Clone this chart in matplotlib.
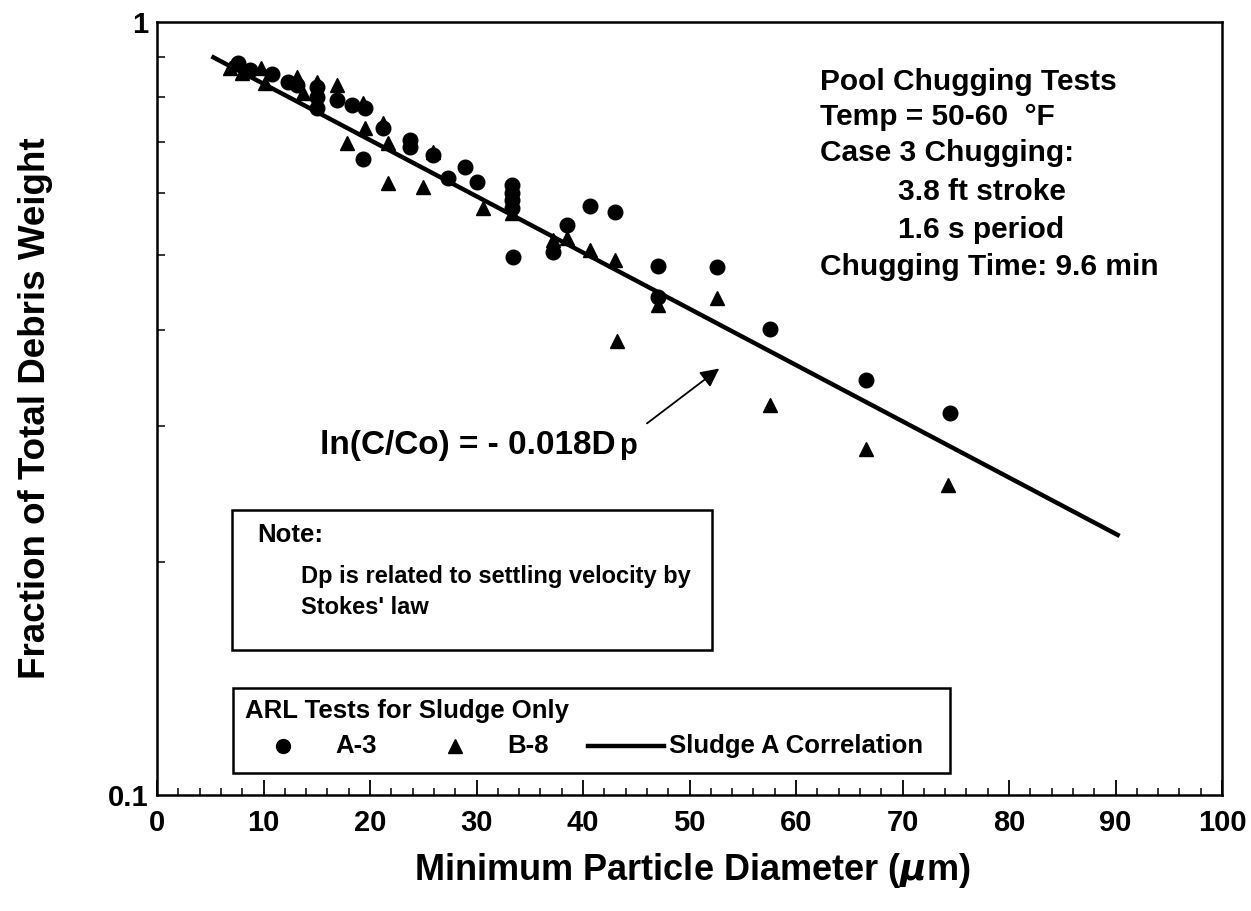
import numpy as np
from matplotlib import pyplot as plt
from matplotlib.lines import Line2D
from matplotlib.patches import Rectangle
from matplotlib.ticker import FixedLocator, FixedFormatter, NullFormatter

plt.rcParams['font.family'] = ['Liberation Sans', 'DejaVu Sans']
plt.rcParams['font.weight'] = 'bold'

# ARL test A-3 (circles)
a3_x = [7.6, 8.7, 10.8, 12.3, 13.1, 15.0, 15.0, 15.0, 16.9, 18.3, 19.5, 19.3, 21.2,
        23.8, 23.8, 25.9, 27.3, 28.9, 30.0, 33.3, 33.3, 33.3, 33.3, 33.4, 37.2,
        38.5, 40.7, 43.0, 47.0, 47.0, 52.6, 57.6, 66.6, 74.5]
a3_y = [0.886, 0.867, 0.856, 0.837, 0.829, 0.824, 0.800, 0.774, 0.793, 0.781, 0.774,
        0.665, 0.729, 0.704, 0.689, 0.673, 0.628, 0.649, 0.621, 0.615, 0.601, 0.589,
        0.574, 0.497, 0.504, 0.546, 0.578, 0.568, 0.483, 0.441, 0.482, 0.401, 0.344,
        0.312]

# ARL test B-8 (triangles)
b8_x = [6.9, 8.0, 9.8, 10.1, 13.1, 13.7, 15.0, 16.9, 17.8, 19.5, 19.3, 21.2, 21.7,
        21.7, 25.0, 25.9, 30.6, 33.3, 37.2, 38.5, 40.7, 43.0, 47.0, 52.6, 43.2,
        57.6, 66.6, 74.3]
b8_y = [0.872, 0.859, 0.872, 0.834, 0.849, 0.809, 0.836, 0.829, 0.697, 0.729, 0.786,
        0.740, 0.697, 0.619, 0.612, 0.679, 0.574, 0.566, 0.522, 0.526, 0.507, 0.492,
        0.430, 0.440, 0.387, 0.320, 0.280, 0.252]

# Sludge A correlation, ln(C/Co) = -0.018 Dp
corr_x = [5.3, 90.2]
corr_y = [0.900, 0.217]

x_ticks = [0, 10, 20, 30, 40, 50, 60, 70, 80, 90, 100]
y_ticks = [0.1, 1]
y_tick_labels = ['0.1', '1']
y_minor = [0.2, 0.3, 0.4, 0.5, 0.6, 0.7, 0.8, 0.9]

W, H = 1251, 911
fig = plt.figure(figsize=(W / 100, H / 100), dpi=100)
ax = fig.add_axes([157 / W, 1 - 795 / H, (1222 - 157) / W, (795 - 22) / H])

ax.plot(a3_x, a3_y, 'o', color='black', ms=10.5, zorder=3)
ax.plot(b8_x, b8_y, '^', color='black', ms=10.5, zorder=3)
ax.plot(corr_x, corr_y, '-', color='black', lw=3.2, zorder=2)

ax.set_yscale('log')
ax.set_xlim(0, 100)
ax.set_ylim(0.1, 1)
ax.set_xticks(x_ticks)
ax.set_xticks(np.arange(0, 101, 2), minor=True)
ax.yaxis.set_major_locator(FixedLocator(y_ticks))
ax.yaxis.set_major_formatter(FixedFormatter(y_tick_labels))
ax.yaxis.set_minor_locator(FixedLocator(y_minor))
ax.yaxis.set_minor_formatter(NullFormatter())
ax.tick_params(axis='both', which='both', direction='in', top=False, right=False)
ax.tick_params(axis='x', which='major', length=11, width=1.3, labelsize=21, pad=10)
ax.tick_params(axis='x', which='minor', length=5, width=1.1)
ax.tick_params(axis='y', which='major', length=0, labelsize=21, pad=6)
ax.tick_params(axis='y', which='minor', length=6, width=1.1)
for s in ax.spines.values():
    s.set_linewidth(1.8)

fig.text(692 / W, 1 - 870 / H, 'Minimum Particle Diameter ($\\mu$m)', fontsize=26,
         ha='center', va='center')
fig.text(36 / W, 1 - 408 / H, 'Fraction of Total Debris Weight', fontsize=26.5,
         ha='center', va='center', rotation=90)

# test conditions
info = [('Pool Chugging Tests', 820, 82), ('Temp = 50-60  \u00b0F', 820, 117),
        ('Case 3 Chugging:', 820, 153), ('3.8 ft stroke', 898, 192),
        ('1.6 s period', 898, 230), ('Chugging Time: 9.6 min', 820, 267)]
for txt, px, py in info:
    fig.text(px / W, 1 - py / H, txt, fontsize=21.5, ha='left', va='center')

# correlation label and arrow
ax.annotate('', xy=(53.0, 0.358), xytext=(45.8, 0.301),
            arrowprops=dict(arrowstyle='-|>', lw=1.3, color='black', mutation_scale=28))
eq = ax.text(15.3, 0.283, 'ln(C/Co) = - 0.018D', fontsize=24, ha='left', va='center')
fig.canvas.draw()
bb = eq.get_window_extent()
fig.text((bb.x1 + 4) / W, (bb.y0 + bb.y1) / 2 / H, 'p', fontsize=21,
         ha='left', va='center')

# note box
fig.patches.append(Rectangle((232 / W, 1 - 650 / H), (712 - 232) / W, (650 - 510) / H,
                             transform=fig.transFigure, fill=False, lw=1.8,
                             edgecolor='black'))
fig.text(257 / W, 1 - 535 / H, 'Note:', fontsize=18.5, ha='left', va='center')
fig.text(301 / W, 1 - 577 / H, 'Dp is related to settling velocity by', fontsize=17,
         ha='left', va='center')
fig.text(301 / W, 1 - 607 / H, "Stokes' law", fontsize=17, ha='left', va='center')

# legend box
fig.patches.append(Rectangle((233 / W, 1 - 773 / H), (950 - 233) / W, (773 - 688) / H,
                             transform=fig.transFigure, fill=False, lw=1.8,
                             edgecolor='black'))
fig.text(245 / W, 1 - 711 / H, 'ARL Tests for Sludge Only', fontsize=18.5,
         ha='left', va='center')
ly = 1 - 746 / H
fig.add_artist(Line2D([283 / W], [ly], marker='o', ms=10, color='black',
                      transform=fig.transFigure))
fig.text(335 / W, ly, 'A-3', fontsize=18.5, ha='left', va='center')
fig.add_artist(Line2D([455 / W], [ly], marker='^', ms=9.5, color='black',
                      transform=fig.transFigure))
fig.text(507 / W, ly, 'B-8', fontsize=18.5, ha='left', va='center')
fig.add_artist(Line2D([588 / W, 664 / W], [ly, ly], lw=3.2, color='black',
                      transform=fig.transFigure))
fig.text(669 / W, ly, 'Sludge A Correlation', fontsize=18.5, ha='left', va='center')

fig.savefig('out.png', dpi=100)
